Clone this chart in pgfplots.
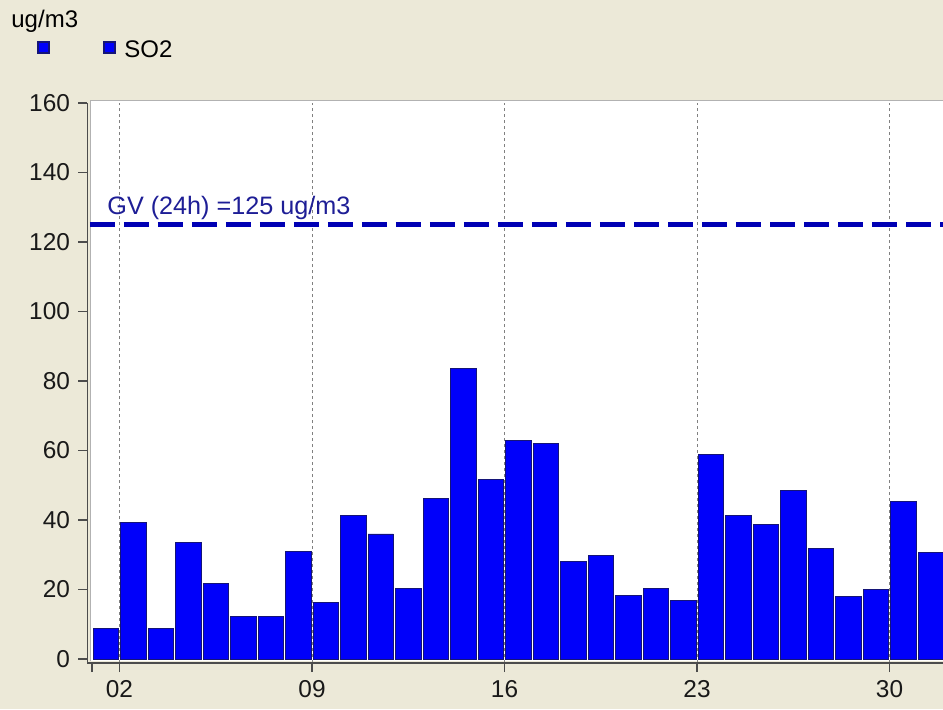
\documentclass[border=0pt]{standalone}
\usepackage{fontspec}
\setmainfont{Liberation Sans}
\usepackage{pgfplots}
\pgfplotsset{compat=1.18}
\usepackage{pgfplotstable}
\definecolor{bg}{RGB}{236,233,216}
\definecolor{barblue}{RGB}{0,0,250}
\definecolor{baredge}{RGB}{20,20,120}
\definecolor{gvblue}{RGB}{0,0,180}
\definecolor{gvtext}{RGB}{30,30,150}
\pgfplotstableread{
day val
1 8.7
2 39.2
3 8.7
4 33.5
5 21.7
6 12.3
7 12.3
8 31.0
9 16.3
10 41.2
11 36.0
12 20.4
13 46.1
14 83.5
15 51.8
16 62.8
17 62.0
18 28.1
19 29.7
20 18.4
21 20.4
22 16.8
23 58.8
24 41.2
25 38.8
26 48.5
27 31.9
28 17.9
29 19.9
30 45.4
31 30.6
}\so
\begin{document}
\fontsize{12}{14}\selectfont
\begin{tikzpicture}[x=0.5pt,y=0.5pt]
\fill[bg] (0,0) rectangle (943,709);
\fill[white] (90,48) rectangle (943,609);
\draw[gray!60, line width=0.5pt] (90,48) -- (90,609) -- (943,609);
\coordinate (AX) at (87.3,46);
\begin{axis}[
  at={(AX)}, anchor=south west,
  scale only axis, width=427.85pt, height=280pt,
  xmin=0.829, xmax=31.945, ymin=-1.151, ymax=160,
  axis x line=bottom, axis y line=left,
  axis line style={-, black!70, line width=0.7pt},
  tick align=outside, major tick length=4.5pt,
  tick style={black!70, line width=0.7pt},
  xtick={2,9,16,23,30}, xticklabels={02,09,16,23,30},
  extra x ticks={1}, extra x tick labels={}, extra x tick style={grid=none},
  ytick={0,20,...,160},
  xmajorgrids,
  major grid style={gray, line width=0.5pt, dash pattern=on 1.6pt off 1.4pt},
  ymajorgrids=false,
  tick label style={font=\fontsize{12.2}{14}\selectfont, text=black!90},
  /pgf/number format/assume math mode=true,
  clip=true,
]
\addplot[ybar, bar width=0.92, bar shift=0pt, fill=barblue, draw=baredge, line width=0.4pt]
  table[x expr=\thisrow{day}+0.5, y=val]{\so};
\addplot[gvblue, line width=2.5pt, dash pattern=on 12.5pt off 4.5pt]
  coordinates {(0.927,125) (31.945,125)};
\end{axis}
\node[anchor=base west, text=gvtext, inner sep=0pt, font=\fontsize{12.6}{14}\selectfont] at (107,495) {GV (24h) =125 ug/m3};
\node[anchor=base west, inner sep=0pt] at (11,682) {ug/m3};
\filldraw[fill=barblue, draw=baredge, line width=0.6pt] (38,656) rectangle (49,667);
\filldraw[fill=barblue, draw=baredge, line width=0.6pt] (104,656) rectangle (115,667);
\node[anchor=base west, inner sep=0pt] at (124,652) {SO2};
\pgfresetboundingbox
\useasboundingbox (0,0) rectangle (943,709);
\end{tikzpicture}
\end{document}
